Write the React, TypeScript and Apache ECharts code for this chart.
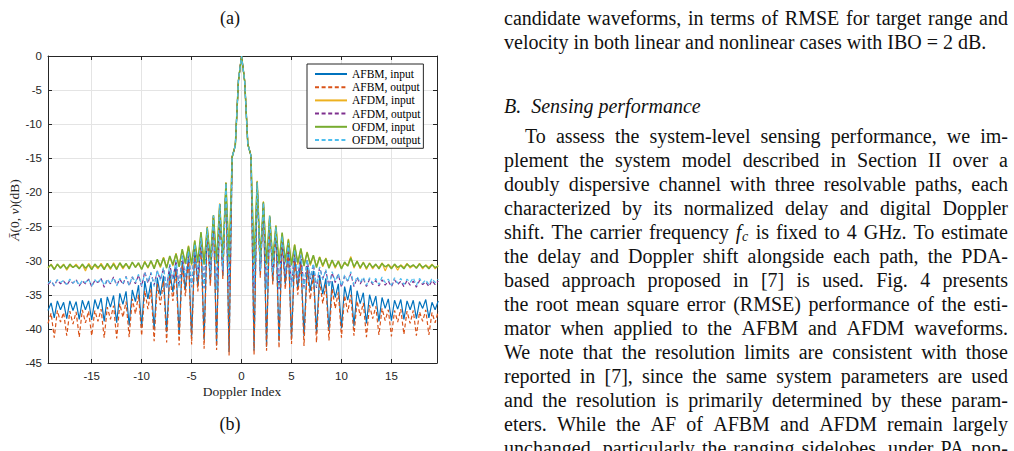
import React, { useEffect, useRef } from 'react';
import * as echarts from 'echarts';

// Doppler sampling grid: sample i sits at (FIRST_INDEX + i) * DOPPLER_STEP
const DOPPLER_STEP = 0.3125;
const FIRST_INDEX = -62;

// Zero-delay ambiguity cut, dB (k = -62 … 63)
const afbmInput = [
  -37.3, -36.2, -38.4, -35.9, -37.2, -36.1, -38.5, -35.9, -37.3, -36.0,
  -38.6, -35.8, -37.2, -35.9, -38.7, -35.7, -37.1, -35.5, -38.9, -35.3,
  -36.8, -35.1, -39.1, -34.8, -36.4, -34.5, -39.5, -34.3, -36.0, -33.6,
  -39.8, -33.0, -35.6, -33.1, -40.1, -32.5, -35.1, -32.2, -40.5, -31.6,
  -34.6, -30.9, -40.9, -30.1, -34.2, -29.3, -41.3, -28.2, -33.8, -26.9,
  -41.6, -25.4, -33.2, -23.5, -42.4, -21.7, -32.2, -18.6, -43.4, -14.8,
  -13.1, -3.6,
  0,
  -3.7, -12.9, -14.6, -43.2, -18.5, -32.0, -21.5, -42.6, -23.6, -33.0,
  -25.3, -41.8, -26.8, -33.5, -28.0, -41.5, -29.1, -34.0, -30.0, -41.0,
  -30.8, -34.4, -31.5, -40.6, -32.1, -34.9, -32.6, -40.3, -33.0, -35.4,
  -33.4, -39.9, -33.8, -35.8, -33.6, -39.6, -34.4, -36.3, -34.7, -39.2,
  -35.0, -36.7, -35.2, -38.9, -35.4, -37.0, -35.6, -38.8, -35.8, -37.1,
  -35.7, -38.6, -35.9, -37.2, -35.8, -38.5, -36.0, -37.0, -35.7, -38.4,
  -36.1, -37.2, -35.9,
];

const afbmOutput = [
  -39.2, -37.7, -41.3, -37.3, -39.0, -37.6, -41.0, -37.4, -39.3, -37.5,
  -41.2, -37.2, -39.1, -37.4, -41.0, -37.3, -38.9, -37.1, -41.3, -36.8,
  -38.6, -36.6, -41.4, -36.3, -38.3, -36.0, -41.2, -35.6, -37.8, -35.0,
  -41.0, -34.4, -37.1, -34.2, -41.8, -33.4, -36.5, -33.0, -42.0, -32.2,
  -35.9, -31.4, -42.4, -30.5, -35.2, -29.6, -42.3, -28.4, -34.5, -27.1,
  -42.9, -25.5, -33.7, -23.6, -43.1, -21.8, -32.7, -18.7, -43.9, -14.8,
  -13.1, -3.6,
  0,
  -3.7, -12.9, -14.6, -43.8, -18.5, -32.5, -21.6, -43.2, -23.7, -33.5,
  -25.4, -42.8, -27.0, -34.2, -28.3, -42.2, -29.4, -35.0, -30.4, -42.5,
  -31.3, -35.7, -32.1, -42.0, -32.9, -36.3, -33.5, -41.7, -34.1, -37.0,
  -34.6, -41.3, -35.1, -37.6, -35.0, -41.0, -35.9, -38.1, -36.2, -41.2,
  -36.5, -38.5, -36.7, -40.9, -37.0, -38.8, -37.2, -41.1, -37.3, -39.0,
  -37.1, -40.8, -37.4, -39.2, -37.3, -41.0, -37.5, -38.9, -37.2, -40.9,
  -37.6, -39.1, -37.4,
];

const afdmInput = [
  -31.1, -30.5, -31.2, -30.6, -31.0, -30.5, -31.4, -30.7, -31.0, -30.5,
  -31.1, -30.6, -31.5, -30.4, -31.0, -30.7, -31.2, -30.4, -31.1, -30.6,
  -31.3, -30.3, -31.1, -30.4, -31.2, -30.5, -31.0, -30.3, -30.9, -30.5,
  -31.2, -30.1, -31.1, -30.1, -31.0, -29.9, -31.0, -29.5, -30.9, -29.4,
  -30.8, -28.9, -30.7, -28.4, -30.5, -27.8, -30.7, -27.0, -30.4, -25.9,
  -30.4, -25.0, -30.1, -23.4, -30.5, -21.6, -29.8, -18.5, -30.3, -14.7,
  -13.0, -3.6,
  0,
  -3.7, -12.9, -14.5, -30.6, -18.3, -30.0, -21.3, -30.4, -23.5, -30.2,
  -24.8, -30.3, -26.0, -30.3, -26.8, -30.5, -27.6, -30.6, -28.3, -30.6,
  -28.7, -30.7, -29.3, -30.8, -29.4, -30.9, -29.6, -30.9, -30.0, -31.1,
  -30.0, -31.0, -30.4, -30.7, -29.4, -31.1, -30.0, -31.2, -30.2, -31.3,
  -30.3, -31.2, -30.6, -31.0, -30.3, -31.5, -30.5, -31.0, -30.6, -31.4,
  -30.6, -31.0, -30.4, -31.1, -30.7, -31.0, -30.4, -31.2, -30.6, -31.0,
  -30.5, -31.2, -30.7,
];

const afdmOutput = [
  -33.5, -33.0, -33.7, -32.8, -33.4, -33.0, -33.6, -32.9, -33.3, -32.8,
  -33.7, -33.0, -33.4, -32.7, -33.8, -32.9, -33.2, -32.6, -33.9, -32.8,
  -33.4, -32.4, -33.6, -32.7, -33.5, -32.3, -33.7, -32.4, -33.4, -32.1,
  -33.8, -31.6, -33.3, -31.8, -33.6, -31.5, -32.8, -31.1, -34.1, -30.6,
  -32.8, -30.0, -33.8, -29.3, -32.6, -28.7, -33.9, -27.6, -32.4, -26.7,
  -34.0, -25.3, -31.7, -23.5, -34.1, -21.7, -31.6, -18.6, -33.9, -14.8,
  -13.1, -3.6,
  0,
  -3.7, -12.9, -14.6, -34.0, -18.5, -31.7, -21.5, -34.0, -23.6, -31.6,
  -25.2, -34.2, -26.5, -32.2, -27.5, -33.7, -28.5, -32.5, -29.2, -33.9,
  -29.9, -32.7, -30.5, -34.0, -31.0, -32.6, -31.5, -33.7, -31.8, -33.2,
  -32.0, -33.9, -32.3, -33.0, -31.9, -33.8, -32.5, -33.4, -32.6, -33.8,
  -32.7, -33.5, -32.9, -33.7, -32.8, -33.6, -33.0, -33.8, -32.8, -33.5,
  -33.0, -33.8, -32.9, -33.6, -33.0, -33.9, -32.9, -33.5, -33.1, -33.8,
  -32.9, -33.5, -33.0,
];

const ofdmInput = [
  -31.0, -30.6, -31.3, -30.5, -31.1, -30.6, -31.2, -30.5, -31.0, -30.7,
  -31.2, -30.5, -31.1, -30.6, -31.3, -30.5, -31.0, -30.6, -31.3, -30.4,
  -31.1, -30.5, -31.3, -30.3, -31.0, -30.4, -31.2, -30.2, -31.0, -30.3,
  -31.3, -30.2, -31.0, -30.0, -31.2, -29.8, -30.8, -29.6, -31.1, -29.3,
  -30.6, -29.0, -30.9, -28.3, -30.4, -27.9, -30.5, -27.1, -30.2, -25.8,
  -30.6, -25.1, -29.9, -23.3, -30.3, -21.7, -29.6, -18.6, -30.1, -14.8,
  -13.1, -3.6,
  0,
  -3.7, -12.9, -14.6, -30.4, -18.4, -29.8, -21.4, -30.6, -23.4, -30.0,
  -24.9, -30.5, -25.9, -30.1, -26.9, -30.7, -27.7, -30.3, -28.2, -30.8,
  -28.8, -30.5, -29.2, -31.0, -29.5, -30.7, -29.7, -31.1, -29.9, -30.9,
  -30.1, -31.2, -30.2, -30.8, -29.6, -30.9, -30.1, -31.0, -30.3, -31.1,
  -30.4, -31.0, -30.5, -31.2, -30.4, -30.9, -30.6, -31.2, -30.5, -31.0,
  -30.7, -31.2, -30.5, -30.9, -30.6, -31.1, -30.5, -31.0, -30.7, -31.2,
  -30.6, -31.0, -30.8,
];

const ofdmOutput = [
  -33.3, -32.9, -33.6, -32.8, -33.2, -32.9, -33.5, -32.7, -33.3, -32.8,
  -33.6, -32.9, -33.2, -32.7, -33.7, -32.8, -33.3, -32.6, -33.6, -32.7,
  -33.4, -32.5, -33.7, -32.6, -33.3, -32.4, -33.6, -32.3, -33.2, -32.0,
  -33.7, -31.8, -33.1, -31.7, -33.8, -31.4, -32.9, -31.0, -33.9, -30.5,
  -32.7, -29.9, -34.0, -29.2, -32.4, -28.6, -33.8, -27.5, -32.2, -26.6,
  -34.1, -25.2, -31.9, -23.4, -34.3, -21.7, -31.4, -18.6, -33.6, -14.8,
  -13.1, -3.6,
  0,
  -3.7, -12.9, -14.6, -33.8, -18.5, -31.5, -21.5, -34.2, -23.5, -31.8,
  -25.1, -34.0, -26.4, -32.0, -27.4, -33.9, -28.4, -32.3, -29.1, -34.1,
  -29.8, -32.5, -30.4, -33.8, -30.9, -32.8, -31.3, -33.9, -31.6, -33.0,
  -31.9, -33.7, -32.1, -33.1, -31.6, -33.6, -32.3, -33.2, -32.4, -33.6,
  -32.5, -33.3, -32.6, -33.5, -32.4, -33.2, -32.7, -33.6, -32.5, -33.3,
  -32.6, -33.5, -32.7, -33.2, -32.5, -33.6, -32.6, -33.3, -32.8, -33.5,
  -32.6, -33.2, -32.7,
];

const seriesNames = [
  'AFBM, input',
  'AFBM, output',
  'AFDM, input',
  'AFDM, output',
  'OFDM, input',
  'OFDM, output',
];

const xTicks = [-15, -10, -5, 0, 5, 10, 15];
const X_MIN = -19.375;
const X_MAX = 19.5625;

// Right-hand column of the page
const bodyLines = [
  { y: 18, text: 'candidate waveforms, in terms of RMSE for target range and', justify: true, indent: 0 },
  { y: 42, text: 'velocity in both linear and nonlinear cases with IBO = 2 dB.', justify: false, indent: 0 },
  { y: 136, text: 'To assess the system-level sensing performance, we im-', justify: true, indent: 21 },
  { y: 160, text: 'plement the system model described in Section II over a', justify: true, indent: 0 },
  { y: 184, text: 'doubly dispersive channel with three resolvable paths, each', justify: true, indent: 0 },
  { y: 208, text: 'characterized by its normalized delay and digital Doppler', justify: true, indent: 0 },
  { y: 232, text: 'shift. The carrier frequency $fc$ is fixed to 4 GHz. To estimate', justify: true, indent: 0 },
  { y: 256, text: 'the delay and Doppler shift alongside each path, the PDA-', justify: true, indent: 0 },
  { y: 280, text: 'based approach proposed in [7] is used. Fig. 4 presents', justify: true, indent: 0 },
  { y: 304, text: 'the root mean square error (RMSE) performance of the esti-', justify: true, indent: 0 },
  { y: 328, text: 'mator when applied to the AFBM and AFDM waveforms.', justify: true, indent: 0 },
  { y: 352, text: 'We note that the resolution limits are consistent with those', justify: true, indent: 0 },
  { y: 376, text: 'reported in [7], since the same system parameters are used', justify: true, indent: 0 },
  { y: 400, text: 'and the resolution is primarily determined by these param-', justify: true, indent: 0 },
  { y: 424, text: 'eters. While the AF of AFBM and AFDM remain largely', justify: true, indent: 0 },
  { y: 448, text: 'unchanged, particularly the ranging sidelobes, under PA non-', justify: true, indent: 0 },
];
const sectionHeading = { y: 106, label: 'B.', title: 'Sensing performance' };

const SERIF = "'Liberation Serif', 'Times New Roman', serif";
const SANS = "'Liberation Sans', Arial, sans-serif";
const AXIS_COLOR = '#262626';
const GRID_COLOR = '#e4e4e4';
const COL_LEFT = 504;
const COL_RIGHT = 1008;
const BODY_SIZE = 20;

const toPairs = (vals: number[]) =>
  vals.map((v, i) => [(FIRST_INDEX + i) * DOPPLER_STEP, v]);

function buildTextGraphics() {
  const canvas = document.createElement('canvas');
  const ctx = canvas.getContext('2d')!;
  const measure = (t: string, font: string) => {
    ctx.font = font;
    return ctx.measureText(t).width;
  };
  const roman = `${BODY_SIZE}px ${SERIF}`;
  const italic = `italic ${BODY_SIZE}px ${SERIF}`;
  const subItalic = `italic 14px ${SERIF}`;
  const tokenWidth = (t: string) =>
    t === '$fc$' ? measure('f', italic) + measure('c', subItalic) + 1 : measure(t, roman);

  const out: any[] = [];
  const word = (x: number, y: number, text: string, extra: any = {}) => ({
    type: 'text',
    silent: true,
    x,
    y,
    style: {
      text,
      fontFamily: SERIF,
      fontSize: BODY_SIZE,
      fill: '#111',
      align: 'left',
      verticalAlign: 'middle',
      ...extra,
    },
  });

  for (const line of bodyLines) {
    const tokens = line.text.split(' ');
    const widths = tokens.map(tokenWidth);
    const x0 = COL_LEFT + line.indent;
    const total = widths.reduce((a, b) => a + b, 0);
    const gap =
      line.justify && tokens.length > 1
        ? (COL_RIGHT - x0 - total) / (tokens.length - 1)
        : measure(' ', roman);
    let x = x0;
    tokens.forEach((t, i) => {
      if (t === '$fc$') {
        const wf = measure('f', italic);
        out.push(word(x, line.y, 'f', { fontStyle: 'italic' }));
        out.push(word(x + wf + 0.5, line.y + 4, 'c', { fontStyle: 'italic', fontSize: 14 }));
      } else {
        out.push(word(x, line.y, t));
      }
      x += widths[i] + gap;
    });
  }

  const wB = measure(sectionHeading.label, italic);
  out.push(word(COL_LEFT, sectionHeading.y, sectionHeading.label, { fontStyle: 'italic' }));
  out.push(word(COL_LEFT + wB + 10, sectionHeading.y, sectionHeading.title, { fontStyle: 'italic' }));
  return out;
}

function buildOption() {
  const defs = [
    { values: afbmInput, color: '#0072BD', dashed: false, width: 1.2 },
    { values: afbmOutput, color: '#D95319', dashed: true, width: 1.2 },
    { values: afdmInput, color: '#EDB120', dashed: false, width: 1.2 },
    { values: afdmOutput, color: '#7E2F8E', dashed: true, width: 1.2 },
    { values: ofdmInput, color: '#77AC30', dashed: false, width: 1.5 },
    { values: ofdmOutput, color: '#4DBEEE', dashed: true, width: 1.2 },
  ];

  const series = defs.map((d, i) => ({
    name: seriesNames[i],
    type: 'line',
    data: toPairs(d.values),
    symbol: 'none',
    showSymbol: false,
    clip: true,
    silent: true,
    color: d.color,
    lineStyle: {
      color: d.color,
      width: d.width,
      type: d.dashed ? [4, 2.6] : 'solid',
    },
    emphasis: { disabled: true },
  }));

  const tickLabel = { color: AXIS_COLOR, fontFamily: SANS, fontSize: 11.5 };

  return {
    animation: false,
    backgroundColor: '#ffffff',
    grid: {
      left: 48,
      top: 56,
      width: 389,
      height: 307,
      containLabel: false,
      outerBoundsMode: 'none',
    },
    xAxis: [
      {
        type: 'value',
        min: X_MIN,
        max: X_MAX,
        position: 'bottom',
        axisLine: { show: true, onZero: false, lineStyle: { color: AXIS_COLOR, width: 1 } },
        axisTick: { show: true, inside: true, length: 4, customValues: xTicks, lineStyle: { color: AXIS_COLOR } },
        axisLabel: { show: true, customValues: xTicks, margin: 7, ...tickLabel },
        splitLine: { show: true, lineStyle: { color: GRID_COLOR, width: 1 } },
      },
      {
        type: 'value',
        min: X_MIN,
        max: X_MAX,
        position: 'top',
        axisLine: { show: true, onZero: false, lineStyle: { color: AXIS_COLOR, width: 1 } },
        axisTick: { show: true, inside: true, length: 4, customValues: xTicks, lineStyle: { color: AXIS_COLOR } },
        axisLabel: { show: false },
        splitLine: { show: false },
      },
    ],
    yAxis: [
      {
        type: 'value',
        min: -45,
        max: 0,
        interval: 5,
        position: 'left',
        axisLine: { show: true, onZero: false, lineStyle: { color: AXIS_COLOR, width: 1 } },
        axisTick: { show: true, inside: true, length: 4, lineStyle: { color: AXIS_COLOR } },
        axisLabel: { show: true, margin: 6, ...tickLabel },
        splitLine: { show: true, lineStyle: { color: GRID_COLOR, width: 1 } },
      },
      {
        type: 'value',
        min: -45,
        max: 0,
        interval: 5,
        position: 'right',
        axisLine: { show: true, onZero: false, lineStyle: { color: AXIS_COLOR, width: 1 } },
        axisTick: { show: true, inside: true, length: 4, lineStyle: { color: AXIS_COLOR } },
        axisLabel: { show: false },
        splitLine: { show: false },
      },
    ],
    legend: {
      orient: 'vertical',
      left: 307,
      top: 64,
      padding: [3.4, 3, 1.7, 7],
      itemWidth: 32,
      itemHeight: 10,
      itemGap: 0,
      selectedMode: false,
      backgroundColor: '#ffffff',
      borderColor: AXIS_COLOR,
      borderWidth: 1,
      borderRadius: 0,
      // line samples only, no marker in the middle
      itemStyle: { opacity: 0, borderWidth: 0 },
      textStyle: { fontFamily: SERIF, fontSize: 11.5, color: '#000', lineHeight: 13.2 },
      data: seriesNames,
    },
    series,
    graphic: [
      {
        type: 'text',
        silent: true,
        x: 242,
        y: 391,
        style: {
          text: 'Doppler Index',
          fontFamily: SERIF,
          fontSize: 13.5,
          fill: '#222',
          align: 'center',
          verticalAlign: 'middle',
        },
      },
      {
        type: 'text',
        silent: true,
        x: 14,
        y: 210,
        rotation: Math.PI / 2,
        style: {
          text: '{i|Ā}{r|(0, }{i|ν}{r|)(dB)}',
          fontFamily: SERIF,
          fontSize: 13.5,
          fill: '#222',
          align: 'center',
          verticalAlign: 'middle',
          rich: {
            i: { fontFamily: SERIF, fontSize: 13.5, fontStyle: 'italic', fill: '#222' },
            r: { fontFamily: SERIF, fontSize: 13.5, fill: '#222' },
          },
        },
      },
      {
        type: 'text',
        silent: true,
        x: 230,
        y: 18,
        style: { text: '(a)', fontFamily: SERIF, fontSize: 18, fill: '#111', align: 'center', verticalAlign: 'middle' },
      },
      {
        type: 'text',
        silent: true,
        x: 230,
        y: 424,
        style: { text: '(b)', fontFamily: SERIF, fontSize: 18, fill: '#111', align: 'center', verticalAlign: 'middle' },
      },
      ...buildTextGraphics(),
    ],
  };
}

export default function App() {
  const ref = useRef<HTMLDivElement>(null);

  useEffect(() => {
    if (!ref.current) return;
    const chart = echarts.init(ref.current, null, { renderer: 'svg', width: 1014, height: 451 });
    chart.setOption(buildOption() as any);
    return () => {
      chart.dispose();
    };
  }, []);

  return (
    <div
      ref={ref}
      style={{ position: 'fixed', left: 0, top: 0, width: 1014, height: 451, background: '#ffffff' }}
    />
  );
}
